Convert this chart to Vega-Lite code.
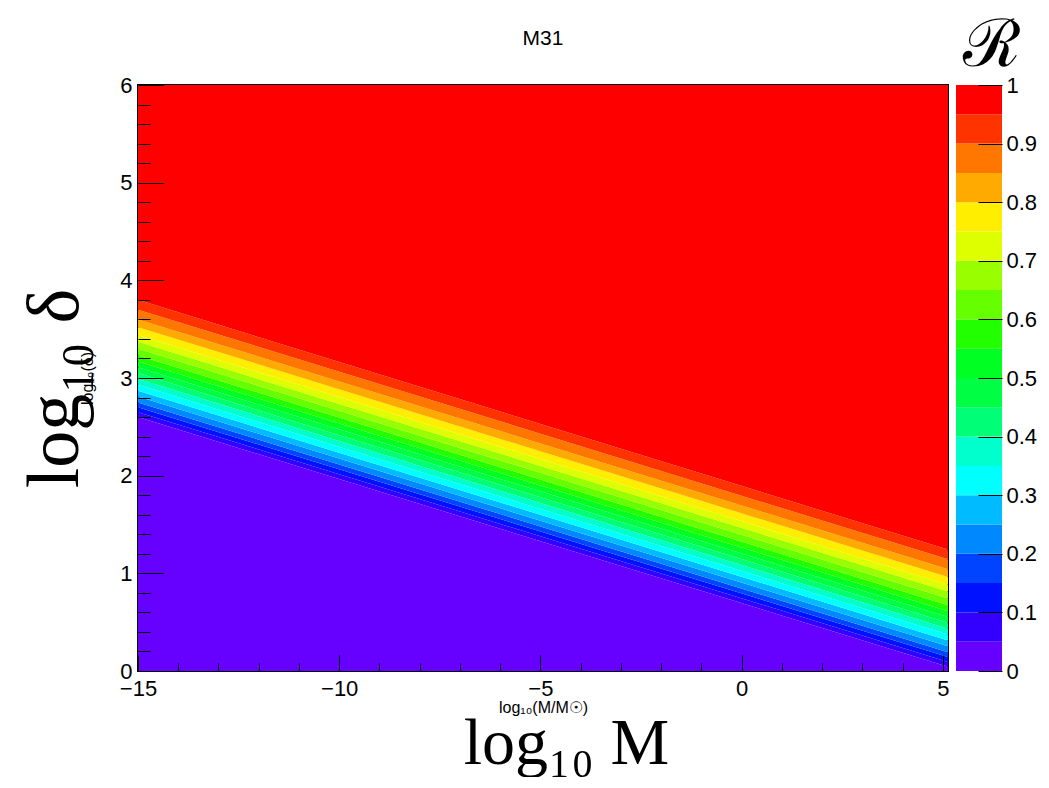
{
  "$schema": "https://vega.github.io/schema/vega-lite/v6.json",
  "background": "white",
  "padding": {"left": 17, "top": 13, "right": 5, "bottom": 0},
  "config": {"font": "Liberation Sans", "axis": {"grid": false, "labelColor": "black", "tickColor": "black", "titleColor": "black", "titleFontWeight": "normal"}, "title": {"color": "black", "fontWeight": "normal"}},
  "datasets": {
    "bands": [
      {"band": 0, "x": -15, "lo": 0, "hi": 2.60}, {"band": 0, "x": 5.13, "lo": 0, "hi": 0.043},
      {"band": 1, "x": -15, "lo": 2.60, "hi": 2.65}, {"band": 1, "x": 5.13, "lo": 0.043, "hi": 0.093},
      {"band": 2, "x": -15, "lo": 2.65, "hi": 2.70}, {"band": 2, "x": 5.13, "lo": 0.093, "hi": 0.143},
      {"band": 3, "x": -15, "lo": 2.70, "hi": 2.75}, {"band": 3, "x": 5.13, "lo": 0.143, "hi": 0.193},
      {"band": 4, "x": -15, "lo": 2.75, "hi": 2.81}, {"band": 4, "x": 5.13, "lo": 0.193, "hi": 0.253},
      {"band": 5, "x": -15, "lo": 2.81, "hi": 2.87}, {"band": 5, "x": 5.13, "lo": 0.253, "hi": 0.313},
      {"band": 6, "x": -15, "lo": 2.87, "hi": 2.93}, {"band": 6, "x": 5.13, "lo": 0.313, "hi": 0.373},
      {"band": 7, "x": -15, "lo": 2.93, "hi": 2.99}, {"band": 7, "x": 5.13, "lo": 0.373, "hi": 0.433},
      {"band": 8, "x": -15, "lo": 2.99, "hi": 3.05}, {"band": 8, "x": 5.13, "lo": 0.433, "hi": 0.493},
      {"band": 9, "x": -15, "lo": 3.05, "hi": 3.11}, {"band": 9, "x": 5.13, "lo": 0.493, "hi": 0.553},
      {"band": 10, "x": -15, "lo": 3.11, "hi": 3.17}, {"band": 10, "x": 5.13, "lo": 0.553, "hi": 0.613},
      {"band": 11, "x": -15, "lo": 3.17, "hi": 3.23}, {"band": 11, "x": 5.13, "lo": 0.613, "hi": 0.673},
      {"band": 12, "x": -15, "lo": 3.23, "hi": 3.30}, {"band": 12, "x": 5.13, "lo": 0.673, "hi": 0.743},
      {"band": 13, "x": -15, "lo": 3.30, "hi": 3.37}, {"band": 13, "x": 5.13, "lo": 0.743, "hi": 0.813},
      {"band": 14, "x": -15, "lo": 3.37, "hi": 3.44}, {"band": 14, "x": 5.13, "lo": 0.813, "hi": 0.883},
      {"band": 15, "x": -15, "lo": 3.44, "hi": 3.52}, {"band": 15, "x": 5.13, "lo": 0.883, "hi": 0.963},
      {"band": 16, "x": -15, "lo": 3.52, "hi": 3.60}, {"band": 16, "x": 5.13, "lo": 0.963, "hi": 1.043},
      {"band": 17, "x": -15, "lo": 3.60, "hi": 3.70}, {"band": 17, "x": 5.13, "lo": 1.043, "hi": 1.143},
      {"band": 18, "x": -15, "lo": 3.70, "hi": 3.80}, {"band": 18, "x": 5.13, "lo": 1.143, "hi": 1.243},
      {"band": 19, "x": -15, "lo": 3.80, "hi": 6}, {"band": 19, "x": 5.13, "lo": 1.243, "hi": 6}
    ],
    "bar": [
      {"band": 0, "lo": 0, "hi": 0.05}, {"band": 1, "lo": 0.05, "hi": 0.1}, {"band": 2, "lo": 0.1, "hi": 0.15},
      {"band": 3, "lo": 0.15, "hi": 0.2}, {"band": 4, "lo": 0.2, "hi": 0.25}, {"band": 5, "lo": 0.25, "hi": 0.3},
      {"band": 6, "lo": 0.3, "hi": 0.35}, {"band": 7, "lo": 0.35, "hi": 0.4}, {"band": 8, "lo": 0.4, "hi": 0.45},
      {"band": 9, "lo": 0.45, "hi": 0.5}, {"band": 10, "lo": 0.5, "hi": 0.55}, {"band": 11, "lo": 0.55, "hi": 0.6},
      {"band": 12, "lo": 0.6, "hi": 0.65}, {"band": 13, "lo": 0.65, "hi": 0.7}, {"band": 14, "lo": 0.7, "hi": 0.75},
      {"band": 15, "lo": 0.75, "hi": 0.8}, {"band": 16, "lo": 0.8, "hi": 0.85}, {"band": 17, "lo": 0.85, "hi": 0.9},
      {"band": 18, "lo": 0.9, "hi": 0.95}, {"band": 19, "lo": 0.95, "hi": 1}
    ]
  },
  "bounds": "flush",
  "spacing": 8,
  "hconcat": [
    {
      "width": 810,
      "height": 586,
      "title": {"text": "M31", "fontSize": 21, "font": "Liberation Sans", "fontWeight": "normal", "frame": "group", "offset": 25},
      "view": {"stroke": "black", "strokeWidth": 2},
      "data": {"name": "bands"},
      "layer": [
        {
          "mark": {"type": "area", "interpolate": "linear", "strokeWidth": 0},
          "encoding": {
            "x": {"field": "x", "type": "quantitative", "scale": {"domain": [-15, 5.13], "nice": false, "zero": false},
                  "axis": {"orient": "bottom", "labels": false, "ticks": false, "domain": false, "title": "log₁₀  M", "titleFont": "Liberation Serif", "titleFontSize": 66, "titlePadding": 40, "titleX": 428}},
            "y": {"field": "lo", "type": "quantitative", "scale": {"domain": [0, 6], "nice": false, "zero": false},
                  "axis": {"orient": "left", "labels": false, "ticks": false, "domain": false, "title": "log₁₀  δ", "titleFont": "Liberation Serif", "titleFontSize": 74, "titlePadding": 45, "titleY": 303}},
            "y2": {"field": "hi"},
            "color": {"field": "band", "type": "nominal",
                      "scale": {"domain": [0,1,2,3,4,5,6,7,8,9,10,11,12,13,14,15,16,17,18,19],
                                "range": ["#6600ff","#3300ff","#0011ff","#0044ff","#0088ff","#00bbff","#00ffff","#00ffcc","#00ff77","#00ff44","#00ff22","#22ff00","#66ff00","#99ff00","#ddff00","#ffee00","#ffaa00","#ff7700","#ff3300","#ff0000"]},
                      "legend": null}
          }
        },
        {
          "mark": {"type": "area", "opacity": 0},
          "encoding": {
            "x": {"field": "x", "type": "quantitative", "scale": {"domain": [-15, 5.13], "nice": false, "zero": false},
                  "axis": {"orient": "bottom", "values": [-15,-14,-13,-12,-11,-10,-9,-8,-7,-6,-5,-4,-3,-2,-1,0,1,2,3,4,5],
                           "labelExpr": "datum.value % 5 === 0 ? datum.label : ''", "format": "~g",
                           "tickSize": {"condition": {"test": "datum.value % 5 === 0", "value": -16}, "value": -8},
                           "labelFontSize": 22, "labelPadding": 23, "labelFlush": false, "domain": false, "zindex": 1,
                           "title": "log₁₀(M/M☉)", "titleFontSize": 16, "titlePadding": 0, "titleX": 405}},
            "y": {"field": "lo", "type": "quantitative", "scale": {"domain": [0, 6], "nice": false, "zero": false},
                  "axis": {"orient": "left", "values": [0,0.2,0.4,0.6,0.8,1,1.2,1.4,1.6,1.8,2,2.2,2.4,2.6,2.8,3,3.2,3.4,3.6,3.8,4,4.2,4.4,4.6,4.8,5,5.2,5.4,5.6,5.8,6],
                           "labelExpr": "abs(datum.value - round(datum.value)) < 0.01 ? datum.label : ''", "format": "~g",
                           "tickSize": {"condition": {"test": "abs(datum.value - round(datum.value)) < 0.01", "value": -25}, "value": -12},
                           "labelFontSize": 22, "labelPadding": 31, "labelFlush": false, "domain": false, "zindex": 1,
                           "title": "log₁₀(δ)", "titleFontSize": 16, "titlePadding": 24}},
            "y2": {"field": "hi"}
          }
        }
      ],
      "resolve": {"axis": {"x": "independent", "y": "independent"}}
    },
    {
      "width": 46,
      "height": 586,
      "title": {"text": "ℛ", "fontSize": 66, "font": "DejaVu Serif", "fontWeight": "normal", "frame": "group", "offset": -6, "dx": 13},
      "view": {"stroke": null},
      "data": {"name": "bar"},
      "mark": {"type": "rect"},
      "encoding": {
        "y": {"field": "lo", "type": "quantitative", "scale": {"domain": [0, 1], "nice": false, "zero": false},
              "axis": {"orient": "right", "values": [0,0.1,0.2,0.3,0.4,0.5,0.6,0.7,0.8,0.9,1], "format": "~g",
                       "tickSize": -24, "labelPadding": 28, "labelFontSize": 22, "labelFlush": false, "domain": false, "zindex": 1, "title": null}},
        "y2": {"field": "hi"},
        "color": {"field": "band", "type": "nominal",
                  "scale": {"domain": [0,1,2,3,4,5,6,7,8,9,10,11,12,13,14,15,16,17,18,19],
                            "range": ["#6600ff","#3300ff","#0011ff","#0044ff","#0088ff","#00bbff","#00ffff","#00ffcc","#00ff77","#00ff44","#00ff22","#22ff00","#66ff00","#99ff00","#ddff00","#ffee00","#ffaa00","#ff7700","#ff3300","#ff0000"]},
                  "legend": null}
      }
    }
  ]
}
